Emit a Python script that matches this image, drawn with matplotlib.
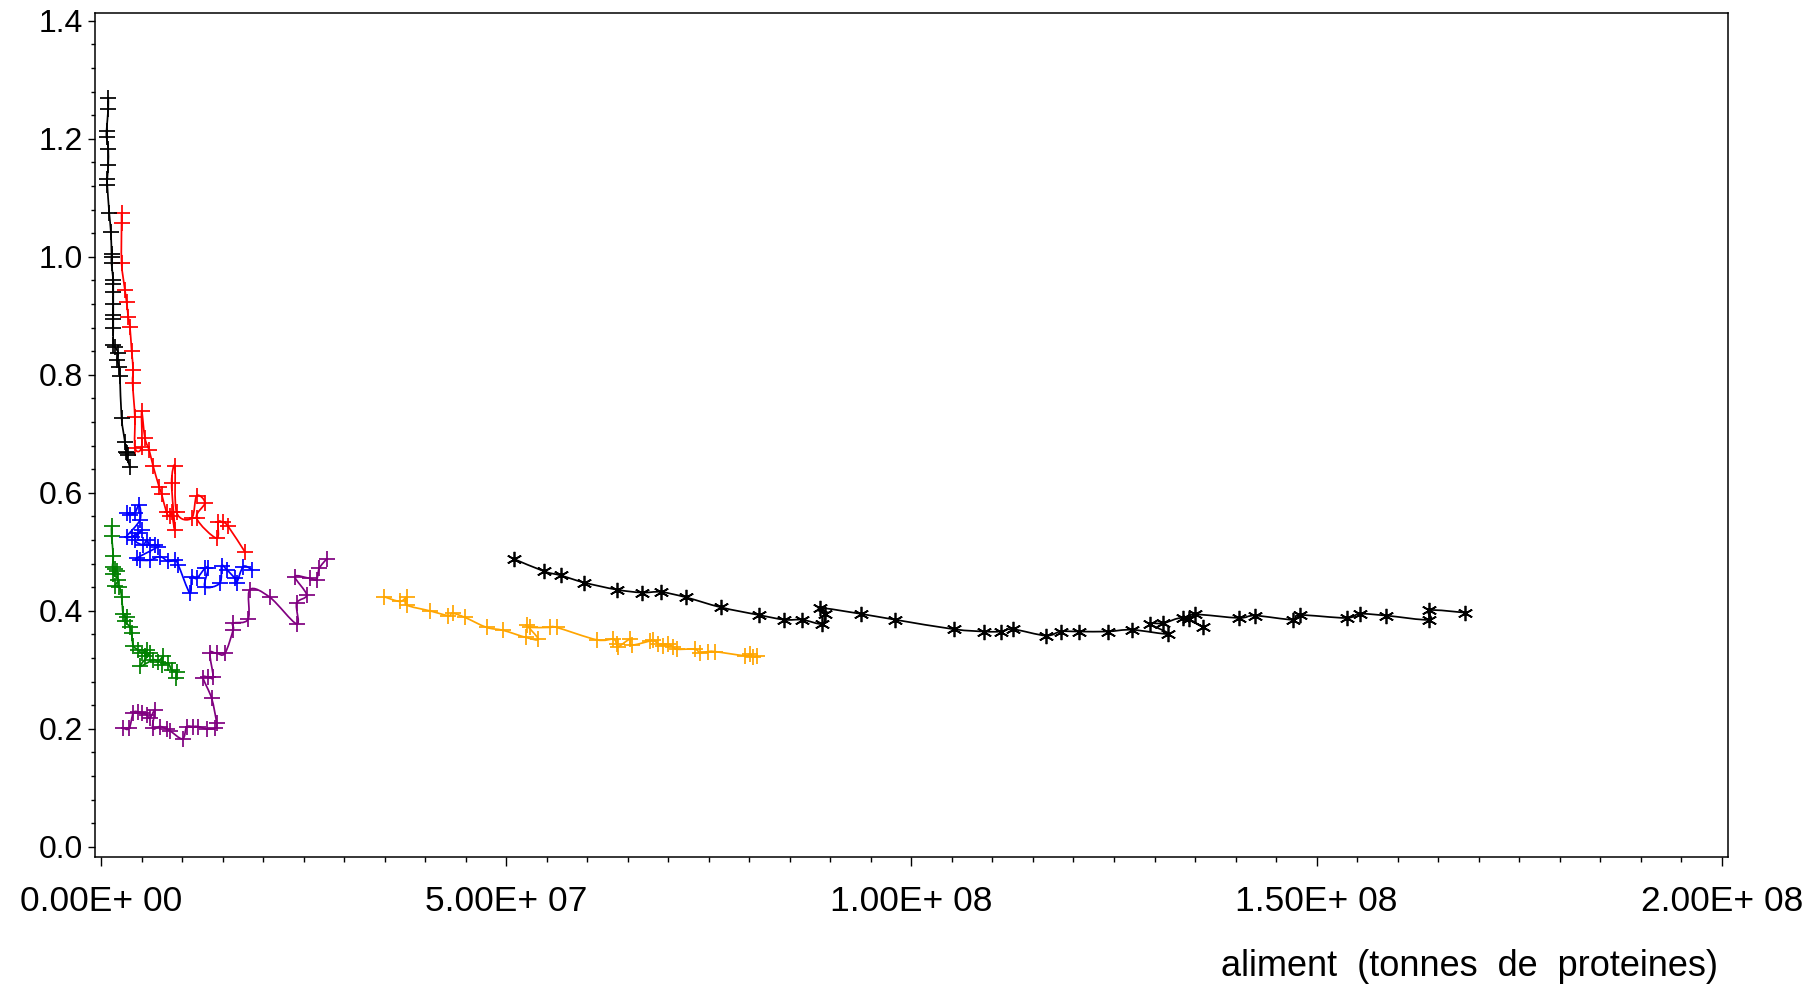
import numpy as np
import matplotlib
matplotlib.use("Agg")
import matplotlib.pyplot as plt
from matplotlib.path import Path
from matplotlib.patches import PathPatch
from matplotlib.ticker import MultipleLocator, FuncFormatter

plt.rcParams['font.family'] = ['Liberation Sans', 'DejaVu Sans']

# feed (millions of tonnes of protein) vs. ratio, one trajectory per series
black_plus_x = [0.89, 0.89, 0.69, 0.69, 0.89, 0.89, 0.77, 0.77, 1.01, 1.22, 1.30, 1.30, 1.30,
                1.51, 1.51, 1.51, 1.51, 1.51, 1.51, 1.51, 1.51, 1.71, 2.12, 2.00, 2.25, 2.33,
                2.54, 2.95, 3.16, 3.36, 3.05, 3.57]
black_plus_y = [1.269, 1.251, 1.214, 1.203, 1.183, 1.156, 1.132, 1.122, 1.075, 1.042, 1.005, 0.999,
                0.989, 0.961, 0.954, 0.941, 0.920, 0.902, 0.894, 0.879, 0.851, 0.848, 0.837, 0.825,
                0.813, 0.798, 0.727, 0.687, 0.667, 0.664, 0.670, 0.643]

red_x = [2.54, 2.54, 2.54, 2.95, 3.16, 3.36, 3.57, 3.78, 3.97, 3.90, 4.18, 4.20, 5.01, 5.01,
         5.42, 5.95, 6.44, 7.18, 7.48, 8.09, 8.50, 8.71, 9.12, 8.71, 9.12, 9.33, 11.18, 11.80,
         12.82, 11.80, 14.26, 14.46, 15.08, 15.70, 17.76]
red_y = [1.074, 1.057, 0.990, 0.944, 0.924, 0.898, 0.881, 0.841, 0.808, 0.786, 0.729, 0.676,
         0.678, 0.739, 0.693, 0.672, 0.645, 0.610, 0.598, 0.567, 0.560, 0.567, 0.537, 0.617,
         0.645, 0.567, 0.557, 0.595, 0.583, 0.557, 0.523, 0.550, 0.550, 0.543, 0.500]

blue_x = [3.16, 3.57, 4.18, 4.71, 4.80, 3.16, 3.78, 4.59, 5.01, 4.18, 5.21, 5.63, 6.03, 6.65,
          7.06, 4.39, 4.80, 6.03, 7.27, 8.29, 9.12, 9.53, 10.97, 11.18, 11.80, 12.82, 13.23,
          12.82, 14.67, 14.88, 15.50, 16.52, 16.73, 17.55, 18.58]
blue_y = [0.566, 0.563, 0.566, 0.580, 0.554, 0.526, 0.526, 0.532, 0.537, 0.520, 0.512, 0.520,
          0.512, 0.512, 0.509, 0.489, 0.486, 0.486, 0.492, 0.484, 0.486, 0.478, 0.430, 0.458,
          0.455, 0.472, 0.472, 0.441, 0.447, 0.476, 0.470, 0.455, 0.447, 0.475, 0.470]

green_x = [1.31, 1.31, 1.51, 1.43, 1.72, 1.92, 1.51, 2.13, 1.72, 2.25, 2.54, 2.74, 3.16, 2.95,
           3.57, 3.78, 3.98, 4.59, 5.01, 5.63, 5.42, 6.03, 4.80, 6.44, 7.06, 7.68, 7.48, 8.29,
           8.71, 9.33, 9.24]
green_y = [0.543, 0.527, 0.493, 0.474, 0.471, 0.467, 0.462, 0.453, 0.442, 0.441, 0.424, 0.395,
           0.389, 0.382, 0.373, 0.363, 0.341, 0.334, 0.329, 0.333, 0.324, 0.328, 0.306, 0.317,
           0.314, 0.323, 0.309, 0.311, 0.300, 0.296, 0.286]

purple_x = [2.74, 3.48, 3.98, 4.59, 5.01, 5.63, 6.03, 6.65, 6.37, 7.27, 8.09, 8.50, 10.07, 10.56,
            11.38, 12.00, 13.03, 14.05, 14.26, 13.65, 12.61, 13.23, 13.84, 13.44, 14.26, 15.29,
            16.31, 16.31, 18.16, 18.37, 20.84, 24.14, 24.14, 25.37, 23.93, 25.78, 26.60, 26.93,
            27.84]
purple_y = [0.201, 0.201, 0.227, 0.229, 0.227, 0.224, 0.218, 0.232, 0.201, 0.204, 0.200, 0.197,
            0.183, 0.203, 0.204, 0.204, 0.200, 0.201, 0.210, 0.252, 0.286, 0.288, 0.288, 0.328,
            0.328, 0.328, 0.368, 0.379, 0.386, 0.436, 0.423, 0.378, 0.413, 0.427, 0.458, 0.455,
            0.453, 0.472, 0.488]

orange_x = [34.91, 36.88, 37.71, 37.71, 40.58, 42.85, 43.38, 44.90, 47.58, 49.63, 52.43, 53.95,
            52.52, 52.93, 55.39, 56.22, 61.15, 63.20, 63.62, 63.82, 65.26, 65.47, 67.73, 68.14,
            68.76, 69.37, 69.99, 70.61, 71.03, 73.28, 73.90, 74.93, 75.75, 79.45, 80.07, 80.48,
            80.90]
orange_y = [0.424, 0.416, 0.423, 0.410, 0.400, 0.392, 0.396, 0.389, 0.372, 0.367, 0.355, 0.352,
            0.376, 0.372, 0.372, 0.372, 0.351, 0.352, 0.344, 0.339, 0.352, 0.342, 0.349, 0.351,
            0.344, 0.341, 0.344, 0.339, 0.335, 0.335, 0.329, 0.331, 0.331, 0.324, 0.327, 0.322,
            0.323]

star_x = [50.95, 54.69, 56.75, 59.62, 63.62, 66.71, 69.09, 72.17, 76.49, 81.18, 84.34, 86.55,
          88.97, 89.33, 88.76, 93.73, 98.01, 105.2, 109.0, 111.0, 112.5, 116.6, 118.4, 120.7,
          124.2, 127.2, 131.7, 129.4, 131.1, 133.5, 136.0, 134.2, 135.0, 140.4, 142.4, 147.1,
          147.9, 153.7, 155.3, 158.6, 163.9, 163.9, 168.3]
star_y = [0.488, 0.467, 0.460, 0.448, 0.436, 0.431, 0.432, 0.423, 0.406, 0.393, 0.385, 0.385,
          0.378, 0.395, 0.405, 0.395, 0.385, 0.369, 0.365, 0.365, 0.369, 0.358, 0.365, 0.365,
          0.365, 0.368, 0.361, 0.378, 0.379, 0.388, 0.373, 0.386, 0.394, 0.388, 0.392, 0.385,
          0.393, 0.388, 0.395, 0.392, 0.385, 0.401, 0.397]

series = [
    (red_x, red_y, '#ff0000', '+'),
    (black_plus_x, black_plus_y, 'black', '+'),
    (blue_x, blue_y, '#0000ff', '+'),
    (green_x, green_y, '#008000', '+'),
    (purple_x, purple_y, '#800080', '+'),
    (orange_x, orange_y, '#ffa500', '+'),
    (star_x, star_y, 'black', (6, 2, 0)),
]

x_ticks = [0, 5e7, 1e8, 1.5e8, 2e8]


def smooth_curve(x, y):
    """Cubic Bezier path passing through every point (Catmull-Rom tangents)."""
    p = np.column_stack([x, y]).astype(float)
    n = len(p)
    verts = [p[0]]
    codes = [Path.MOVETO]
    for i in range(n - 1):
        p0 = p[max(i - 1, 0)]
        p1 = p[i]
        p2 = p[i + 1]
        p3 = p[min(i + 2, n - 1)]
        verts += [p1 + (p2 - p0) / 6.0, p2 - (p3 - p1) / 6.0, p2]
        codes += [Path.CURVE4] * 3
    return Path(verts, codes)


def sci_label(v, pos):
    if v == 0:
        return "0.00E+ 00"
    e = int(np.floor(np.log10(abs(v)) + 1e-9))
    return f"{v / 10 ** e:.2f}E+ {e:02d}"


fig = plt.figure(figsize=(18.12, 9.88), dpi=100)
ax = fig.add_axes([95 / 1812, 1 - 856.7 / 988, (1727.7 - 95) / 1812, (856.7 - 12.7) / 988])

for xs, ys, col, mk in series:
    xv = np.asarray(xs) * 1e6
    yv = np.asarray(ys)
    ax.add_patch(PathPatch(smooth_curve(xv, yv), facecolor='none', edgecolor=col,
                           lw=1.25, transform=ax.transData))
    ax.plot(xv, yv, linestyle='none', marker=mk, markersize=11, markeredgewidth=1.25,
            color=col)

ax.set_xlim(-7.4e5, 2.0073e8)
ax.set_ylim(-0.0166, 1.4137)

ax.set_xticks(x_ticks)
ax.xaxis.set_minor_locator(MultipleLocator(5e6))
ax.xaxis.set_major_formatter(FuncFormatter(sci_label))
ax.yaxis.set_major_locator(MultipleLocator(0.2))
ax.yaxis.set_minor_locator(MultipleLocator(0.04))
ax.yaxis.set_major_formatter(FuncFormatter(lambda v, p: f"{v:.1f}"))

ax.tick_params(axis='x', which='major', direction='out', length=6.7, width=1.0,
               labelsize=25.5, pad=14)
ax.tick_params(axis='x', which='minor', direction='out', length=3.6, width=1.0)
ax.tick_params(axis='y', which='major', direction='out', length=4.8, width=1.0,
               labelsize=23, pad=4)
ax.tick_params(axis='y', which='minor', direction='out', length=2.9, width=1.0)

for s in ax.spines.values():
    s.set_linewidth(1.1)

ax.set_xlabel("aliment  (tonnes  de  proteines)", fontsize=26, ha='right', va='center')
ax.xaxis.set_label_coords((1718 - 95) / (1727.7 - 95), -(966 - 856.7) / (856.7 - 12.7))

fig.savefig("out.png", dpi=100)
